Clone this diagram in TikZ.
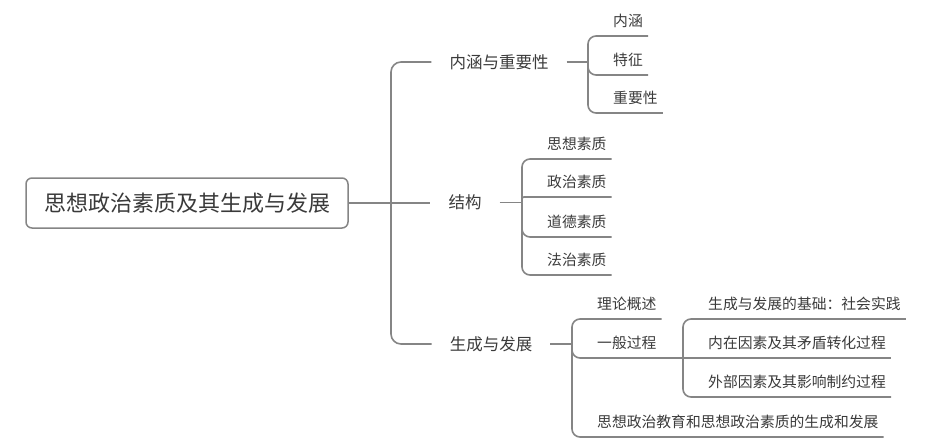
\documentclass[tikz,border=0pt]{standalone}
\usepackage{fontspec}
\newfontfamily\cjk{Noto Sans CJK SC}
\definecolor{linec}{HTML}{858585}
\definecolor{textc}{HTML}{3A3A3A}
\begin{document}
\begin{tikzpicture}[x=1pt,y=-1pt,
  branch/.style={draw=linec, line width=1.6pt, rounded corners=8pt},
  trunkline/.style={draw=linec, line width=1.6pt, rounded corners=10pt},
  rootbox/.style={draw=linec, line width=1.5pt, rounded corners=6pt, fill=white,
    minimum width=322pt, minimum height=50pt, inner sep=0pt, text=textc,
    font=\cjk\fontsize{22}{24}\selectfont},
  mid/.style={inner xsep=18pt, inner ysep=0pt, text=textc,
    font=\cjk\fontsize{16.5}{18}\selectfont},
  leaf/.style={inner sep=0pt, anchor=west, text=textc,
    font=\cjk\fontsize{14.8}{16}\selectfont},
]
\useasboundingbox (0,0) rectangle (934,447);

% root
\node[rootbox] (root) at (187,203) {思想政治素质及其生成与发展};

% level 1
\node[mid] (m1) at (499,62) {内涵与重要性};
\node[mid] (m2) at (465,202.5) {结构};
\node[mid] (m3) at (491,344) {生成与发展};

\coordinate (tj) at (391,203);
\draw[trunkline] (root.east) -- (root.east -| m2.west);
\draw[trunkline] (tj) |- (m1.west);
\draw[trunkline] (tj) |- (m3.west);

% branch 1
\coordinate (j1) at (588,62);
\draw[branch] (m1.east) -- (j1);
\node[leaf] (a1) at (613,21) {内涵};
\node[leaf] (a2) at (613,60) {特征};
\node[leaf] (a3) at (613,98) {重要性};
\draw[branch] (j1) |- ([shift={(5,15)}]a1.east);
\draw[branch] (j1) |- ([shift={(5,15)}]a2.east);
\draw[branch] (j1) |- ([shift={(5,15)}]a3.east);

% branch 2
\coordinate (j2) at (522,202.5);
\draw[branch] (m2.east) -- (j2);
\node[leaf] (b1) at (547,144) {思想素质};
\node[leaf] (b2) at (547,182) {政治素质};
\node[leaf] (b3) at (547,222) {道德素质};
\node[leaf] (b4) at (547,260) {法治素质};
\draw[branch] (j2) |- ([shift={(5,15)}]b1.east);
\draw[branch, rounded corners=2pt] (j2) |- ([shift={(5,15)}]b2.east);
\draw[branch] (j2) |- ([shift={(5,15)}]b3.east);
\draw[branch] (j2) |- ([shift={(5,15)}]b4.east);

% branch 3
\coordinate (j3) at (572,344);
\draw[branch] (m3.east) -- (j3);
\node[leaf] (c1) at (597,304) {理论概述};
\node[leaf] (c2) at (597,343) {一般过程};
\node[leaf] (c4) at (597,422) {思想政治教育和思想政治素质的生成和发展};
\coordinate (j4) at (683,358);
\draw[branch] (j3) |- ([shift={(5,15)}]c1.east);
\draw[branch] (j3) |- (j4);
\draw[branch] (j3) |- ([shift={(5,15)}]c4.east);

% sub-branch of 一般过程
\node[leaf] (d1) at (708,304) {生成与发展的基础：社会实践};
\node[leaf] (d2) at (708,343) {内在因素及其矛盾转化过程};
\node[leaf] (d3) at (708,382) {外部因素及其影响制约过程};
\draw[branch] (j4) |- ([shift={(5,15)}]d1.east);
\draw[branch] (j4) -- ([shift={(5,15)}]d2.east);
\draw[branch] (j4) |- ([shift={(5,15)}]d3.east);
\end{tikzpicture}
\end{document}
